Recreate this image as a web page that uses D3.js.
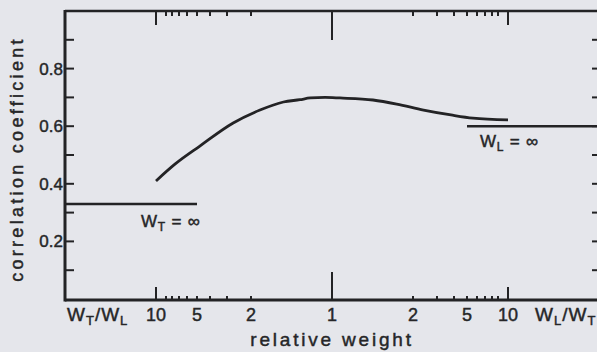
<!DOCTYPE html>
<html>
<head>
<meta charset="utf-8">
<script src="https://cdn.jsdelivr.net/npm/d3@7"></script>
<style>
  html, body { margin: 0; padding: 0; background: #e5e6eb; }
  svg { display: block; }
  text { font-family: "Liberation Sans", "DejaVu Sans", sans-serif; fill: #262628; stroke: #262628; stroke-width: 0.45px; }
</style>
</head>
<body>
<svg id="chart" width="597" height="352"></svg>
<script>
// ---- data ----
// relative weight expressed as W_L / W_T (values < 1 lie on the W_T/W_L side)
const weightRatio = [0.1, 0.133, 0.21, 0.37, 0.54, 0.66, 0.76, 0.83, 0.943, 1.07, 1.42, 1.74, 2.39, 3.8, 5.57, 10];
const correlation = [0.41, 0.469, 0.531, 0.611, 0.656, 0.684, 0.692, 0.698, 0.700, 0.698, 0.691, 0.677, 0.656, 0.639, 0.628, 0.622];
const limitWT = 0.33;   // W_T = infinity
const limitWL = 0.60;   // W_L = infinity
const yMajorTicks = [0.2, 0.4, 0.6, 0.8];
const yMinorTicks = [0.1, 0.3, 0.5, 0.7, 0.9];
const xMinorRatios = [2, 3, 4, 5, 6, 7, 8, 9];
const xLabelRatios = [10, 5, 2];
const xLabelLeft = "W_T/W_L";
const xLabelRight = "W_L/W_T";
const yTitle = "correlation coefficient";
const xTitle = "relative weight";

(function () {
// ---- layout ----
const svg = d3.select("#chart");
const leftX = 65, bottomY = 300, topY = 11, rightEdge = 600;
const cx = 332;
const ink = "#232325";

// x scale: distorted ratio axis, symmetric around 1
const calibR = [2, 3, 4, 5, 6, 7, 8, 9, 10];
const calibOff = [81, 105, 122, 135, 145, 153, 160, 166, 176];
const dom = [], rng = [];
for (let i = calibR.length - 1; i >= 0; i--) { dom.push(-Math.log10(calibR[i])); rng.push(cx - calibOff[i]); }
dom.push(0); rng.push(cx);
for (let i = 0; i < calibR.length; i++) { dom.push(Math.log10(calibR[i])); rng.push(cx + calibOff[i]); }
const xs = d3.scaleLinear().domain(dom).range(rng);
const x = r => xs(Math.log10(r));
const y = d3.scaleLinear().domain([0, 1]).range([299, 11]);

// frame
svg.append("line").attr("x1", leftX).attr("x2", rightEdge).attr("y1", topY).attr("y2", topY)
  .attr("stroke", ink).attr("stroke-width", 2.5);
svg.append("line").attr("x1", leftX).attr("x2", rightEdge).attr("y1", bottomY).attr("y2", bottomY)
  .attr("stroke", ink).attr("stroke-width", 3);
svg.append("line").attr("x1", leftX).attr("x2", leftX).attr("y1", topY - 1).attr("y2", bottomY + 1.5)
  .attr("stroke", ink).attr("stroke-width", 3);

// y ticks (left, inward) and right-side ticks
const yAll = yMajorTicks.concat(yMinorTicks);
svg.selectAll(".ytl").data(yAll).join("line")
  .attr("x1", leftX).attr("x2", leftX + 9).attr("y1", d => y(d)).attr("y2", d => y(d))
  .attr("stroke", ink).attr("stroke-width", 2);
svg.selectAll(".ytr").data(yAll).join("line")
  .attr("x1", 592).attr("x2", rightEdge).attr("y1", d => y(d)).attr("y2", d => y(d))
  .attr("stroke", ink).attr("stroke-width", 2);
svg.selectAll(".ylab").data(yMajorTicks).join("text")
  .attr("x", leftX - 2).attr("y", d => y(d) + 6)
  .attr("text-anchor", "end").attr("font-size", 17)
  .text(d => d.toFixed(1));

// x ticks (both sides of 1, bottom and top)
const sides = [];
xMinorRatios.forEach(r => { sides.push({r: 1 / r, len: 4}); sides.push({r: r, len: 4}); });
sides.push({r: 0.1, len: 13}); sides.push({r: 10, len: 13}); sides.push({r: 1, len: 28});
svg.selectAll(".xtb").data(sides).join("line")
  .attr("x1", d => x(d.r)).attr("x2", d => x(d.r))
  .attr("y1", bottomY).attr("y2", d => bottomY - d.len)
  .attr("stroke", ink).attr("stroke-width", 2);
svg.selectAll(".xtt").data(sides).join("line")
  .attr("x1", d => x(d.r)).attr("x2", d => x(d.r))
  .attr("y1", topY).attr("y2", d => topY + d.len + 1)
  .attr("stroke", ink).attr("stroke-width", 2);

// x tick labels
const xLabs = [];
xLabelRatios.forEach(r => xLabs.push({r: 1 / r, t: String(r)}));
xLabs.push({r: 1, t: "1"});
xLabelRatios.slice().reverse().forEach(r => xLabs.push({r: r, t: String(r)}));
svg.selectAll(".xlab").data(xLabs).join("text")
  .attr("x", d => x(d.r)).attr("y", 321)
  .attr("text-anchor", "middle").attr("font-size", 18)
  .text(d => d.t);

function ratioLabel(txt, xx, yy) {
  const [a, b] = txt.split("/");
  const t = svg.append("text").attr("x", xx).attr("y", yy).attr("font-size", 19).attr("letter-spacing", 1);
  t.append("tspan").text(a[0]);
  t.append("tspan").attr("font-size", 13).attr("dy", 4).text(a.slice(2));
  t.append("tspan").attr("dy", -4).text("/");
  t.append("tspan").text(b[0]);
  t.append("tspan").attr("font-size", 13).attr("dy", 4).text(b.slice(2));
}
ratioLabel(xLabelLeft, 67, 321);
ratioLabel(xLabelRight, 535, 321);

// axis titles
svg.append("text").attr("x", cx).attr("y", 346).attr("text-anchor", "middle")
  .attr("font-size", 19).attr("letter-spacing", 2.8).text(xTitle);
svg.append("text").attr("transform", "translate(23,159) rotate(-90)")
  .attr("text-anchor", "middle").attr("font-size", 18).attr("letter-spacing", 3.3).text(yTitle);

// asymptote lines
svg.append("line").attr("x1", leftX).attr("x2", x(1 / 5)).attr("y1", y(limitWT)).attr("y2", y(limitWT))
  .attr("stroke", ink).attr("stroke-width", 2.5);
svg.append("line").attr("x1", x(5)).attr("x2", rightEdge).attr("y1", y(limitWL)).attr("y2", y(limitWL))
  .attr("stroke", ink).attr("stroke-width", 2.5);

function infLabel(sub, xx, yy) {
  const t = svg.append("text").attr("x", xx).attr("y", yy).attr("font-size", 17).attr("letter-spacing", 0.8);
  t.append("tspan").text("W");
  t.append("tspan").attr("font-size", 12).attr("dy", 4).text(sub);
  t.append("tspan").attr("dy", -4).text(" = ∞");
}
infLabel("T", 141, 227);
infLabel("L", 480, 147);

// curve
const pts = weightRatio.map((r, i) => [x(r), y(correlation[i])]);
svg.append("path").attr("d", d3.line().curve(d3.curveMonotoneX)(pts))
  .attr("fill", "none").attr("stroke", ink).attr("stroke-width", 2.8);
})();
</script>
</body>
</html>
